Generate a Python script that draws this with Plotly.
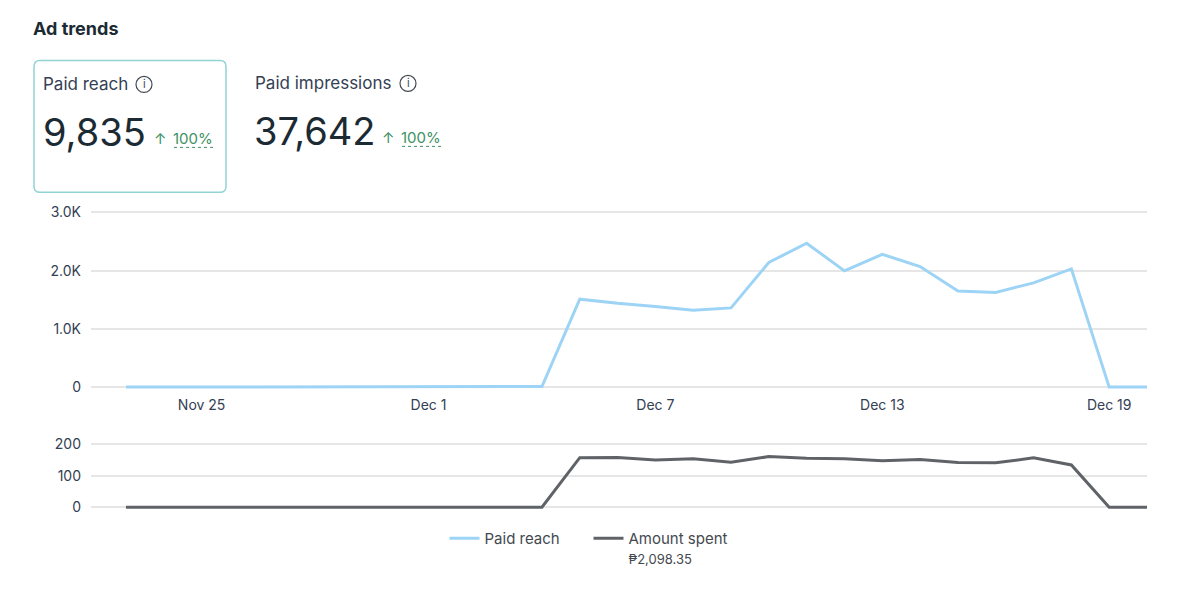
import plotly.graph_objects as go

# data
dates = [
    "2023-11-23", "2023-11-24", "2023-11-25", "2023-11-26", "2023-11-27",
    "2023-11-28", "2023-11-29", "2023-11-30", "2023-12-01", "2023-12-02",
    "2023-12-03", "2023-12-04", "2023-12-05", "2023-12-06", "2023-12-07",
    "2023-12-08", "2023-12-09", "2023-12-10", "2023-12-11", "2023-12-12",
    "2023-12-13", "2023-12-14", "2023-12-15", "2023-12-16", "2023-12-17",
    "2023-12-18", "2023-12-19", "2023-12-20",
]
paid_reach = [0, 0, 0, 0, 0, 0, 0, 0, 0, 0, 0, 10,
              1510, 1440, 1385, 1320, 1360, 2140, 2470, 1995, 2280, 2070,
              1650, 1625, 1790, 2030, 0, 0]
amount_spent = [0, 0, 0, 0, 0, 0, 0, 0, 0, 0, 0, 0,
                156.8, 157.4, 149.6, 153.3, 142.4, 160.2, 155.1, 153.4,
                146.7, 151.3, 141.6, 140.5, 156.3, 133.75, 0, 0]

x_tickvals = ["2023-11-25", "2023-12-01", "2023-12-07", "2023-12-13", "2023-12-19"]
x_ticktext = ["Nov 25", "Dec 1", "Dec 7", "Dec 13", "Dec 19"]
reach_tickvals = [0, 1000, 2000, 3000]
reach_ticktext = ["0", "1.0K", "2.0K", "3.0K"]
spend_tickvals = [0, 100, 200]

W, H = 1200, 616
FONT = "Inter"
DARK = "#1c2b33"
GREEN = "#3e9163"
BLUE = "#9dd4f5"
GREY = "#5f6368"


def px(x):
    return x / W


def py(y):
    # the photographed page comes out slightly squeezed vertically,
    # so positions are corrected for that
    y = (y - 6.5) / 0.983
    return 1 - y / H


fig = go.Figure()

fig.add_trace(go.Scatter(
    x=dates, y=paid_reach, name="Paid reach", mode="lines",
    line=dict(color=BLUE, width=3), xaxis="x", yaxis="y",
))
fig.add_trace(go.Scatter(
    x=dates, y=amount_spent,
    name="Amount spent<br><span style='font-size:13px'>₱2,098.35</span>",
    mode="lines", line=dict(color=GREY, width=3), xaxis="x2", yaxis="y2",
))

x_range = ["2023-11-22 01:48", "2023-12-20 00:00"]
dom = [px(91), px(1147)]
axis_font = dict(family=FONT, size=14, color="#344054")

fig.update_layout(
    width=W, height=H,
    margin=dict(l=0, r=0, t=0, b=0),
    paper_bgcolor="white", plot_bgcolor="white",
    font=dict(family=FONT, color=DARK),
    xaxis=dict(
        domain=dom, anchor="y", range=x_range, type="date",
        tickvals=x_tickvals, ticktext=x_ticktext, tickfont=axis_font,
        showgrid=False, zeroline=False, showline=False, ticks="",
        ticklabelstandoff=4,
    ),
    yaxis=dict(
        domain=[py(391), py(210)], anchor="x", range=[-70, 3035],
        tickvals=reach_tickvals, ticktext=reach_ticktext, tickfont=axis_font,
        showgrid=True, gridcolor="#e6e6e6", gridwidth=1.5, zeroline=False,
        ticks="", ticklabelstandoff=9,
    ),
    xaxis2=dict(
        domain=dom, anchor="y2", range=x_range, type="date", matches="x",
        showticklabels=False, showgrid=False, zeroline=False, ticks="",
    ),
    yaxis2=dict(
        domain=[py(511), py(442)], anchor="x2", range=[-12, 206],
        tickvals=spend_tickvals, tickfont=axis_font,
        showgrid=True, gridcolor="#e6e6e6", gridwidth=1.5, zeroline=False,
        ticks="", ticklabelstandoff=9,
    ),
    legend=dict(
        orientation="h", xanchor="center", x=px(588.5), yanchor="top", y=py(522),
        font=dict(family=FONT, size=15, color="#444950"),
        valign="top", itemwidth=30, traceorder="normal",
        entrywidth=99, entrywidthmode="pixels",
    ),
    showlegend=True,
)

# header texts
annotations = [
    dict(x=px(31), y=py(28), text="<b>Ad trends</b>", size=18, color=DARK),
    dict(x=px(41), y=py(84), text="Paid reach", size=17, color="#344054"),
    dict(x=px(253), y=py(83), text="Paid impressions", size=17, color="#344054"),
    dict(x=px(41), y=py(132), text="9,835", size=38, color=DARK),
    dict(x=px(252), y=py(131), text="37,642", size=38, color=DARK),
    dict(x=px(152), y=py(138), text="↑", size=15, color=GREEN),
    dict(x=px(171), y=py(138), text="100%", size=15, color=GREEN),
    dict(x=px(380), y=py(137), text="↑", size=15, color=GREEN),
    dict(x=px(399), y=py(137), text="100%", size=15, color=GREEN),
    dict(x=px(144), y=py(84), text="i", size=11, color="#444950", xanchor="center"),
    dict(x=px(408), y=py(83), text="i", size=11, color="#444950", xanchor="center"),
]
for a in annotations:
    fig.add_annotation(
        x=a["x"], y=a["y"], xref="paper", yref="paper", text=a["text"],
        showarrow=False, xanchor=a.get("xanchor", "left"), yanchor="middle",
        font=dict(family=FONT, size=a["size"], color=a["color"]),
    )

# card border (rounded rectangle) around the selected metric
x0, y0, x1, y1, r = px(34), py(60), px(226), py(192), 6
rx, ry = r / W, r / H
card = (
    f"M {x0 + rx},{y0} L {x1 - rx},{y0} Q {x1},{y0} {x1},{y0 - ry} "
    f"L {x1},{y1 + ry} Q {x1},{y1} {x1 - rx},{y1} L {x0 + rx},{y1} "
    f"Q {x0},{y1} {x0},{y1 + ry} L {x0},{y0 - ry} Q {x0},{y0} {x0 + rx},{y0} Z"
)
fig.add_shape(type="path", path=card, xref="paper", yref="paper",
              line=dict(color="#92d3d3", width=1.5))

# info icons
for cx, cy in [(144, 84), (408, 83)]:
    fig.add_shape(type="circle", xref="paper", yref="paper",
                  x0=px(cx - 8), x1=px(cx + 8), y0=py(cy - 8), y1=py(cy + 8),
                  line=dict(color="#444950", width=1.2))

# dotted underline under the change values
for xa, xb, yy in [(174, 216, 147), (402, 444, 146)]:
    fig.add_shape(type="line", xref="paper", yref="paper",
                  x0=px(xa), x1=px(xb), y0=py(yy), y1=py(yy),
                  line=dict(color=GREEN, width=1, dash="dot"))

fig.write_html("out.html", config={"displayModeBar": False},
               post_script="document.body.style.margin='0';")
